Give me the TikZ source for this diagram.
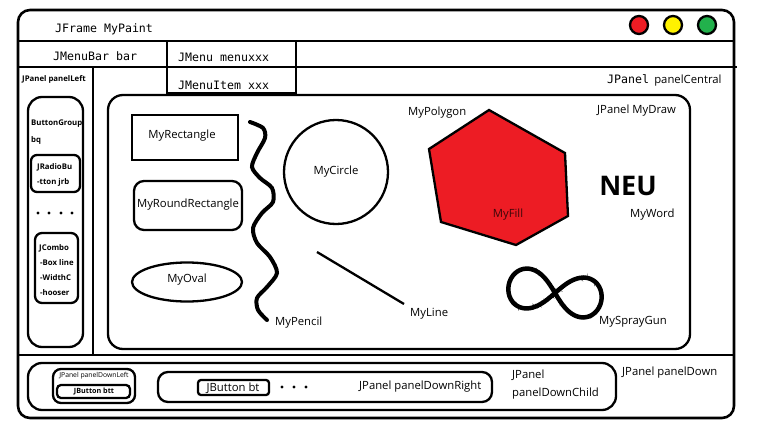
\documentclass[tikz,border=0pt]{standalone}
\usepackage{fontspec}
\setmainfont{Open Sans}
\setmonofont{DejaVu Sans Mono}
\definecolor{paintred}{RGB}{237,28,36}
\definecolor{paintyellow}{RGB}{255,242,0}
\definecolor{paintgreen}{RGB}{34,177,76}
\tikzset{
  frame/.style={line width=2.6pt},
  part/.style={line width=2.3pt},
  lbl/.style={font=\fontsize{11.3}{13}\selectfont,inner sep=0pt},
  mono/.style={font=\fontsize{11.6}{13}\ttfamily,inner sep=0pt},
  small/.style={font=\fontsize{7.8}{9}\selectfont\bfseries,inner sep=0pt},
}
\begin{document}
\begin{tikzpicture}[x=1pt,y=-1pt]
\useasboundingbox (0,0) rectangle (758,431);

% Window frame
\draw[frame,rounded corners=12pt] (18,10) rectangle (734,418);
\draw[frame] (18,41) -- (734,41); % title bar
\draw[frame] (18,67) -- (737,67); % menu bar
\draw[frame] (167,41) rectangle (296,93);
\draw[frame] (93,67) -- (93,355); % left panel
\draw[frame] (18,355) -- (734,355); % down panel
\foreach \c/\x in {paintred/639,paintyellow/673,paintgreen/707}
    \draw[part,fill=\c] (\x,25) circle (9);

\node (frm) at (55,29) [mono,anchor=west] {JFrame MyPaint};
\node (bar) at (53,56) [mono,anchor=west] {JMenuBar bar};
\node (menu) at (178,57) [mono,anchor=west] {JMenu menuxxx};
\node (item) at (178,85) [mono,anchor=west] {JMenuItem xxx};
\node (central) at (607,80) [anchor=west,inner sep=0pt]
    {{\fontsize{11.6}{13}\ttfamily JPanel}\ \ {\fontsize{11.3}{13}\selectfont panelCentral}};

% Left panel
\node (left) at (22,79) [small,anchor=west] {JPanel panelLeft};
\draw[part,rounded corners=14pt] (28,97) rectangle (83,347);
\node (bg) at (31,124) [small,anchor=west] {ButtonGroup};
\node (bq) at (31,140) [small,anchor=west] {bq};
\draw[part,rounded corners=6pt] (31,155) rectangle (80,192);
\node (jrb) at (37,167) [small,anchor=west] {JRadioBu};
\node (jrbb) at (37,182) [small,anchor=west] {-tton jrb};
\foreach \x in {38,49,61,72}
    \fill (\x,213) circle (1.6);
\draw[part,rounded corners=7pt] (35,233) rectangle (78,303);
\node (cb) at (39,248) [small,anchor=west] {JCombo};
\node (cbb) at (40,263) [small,anchor=west] {-Box line};
\node (cbc) at (40,278) [small,anchor=west] {-WidthC};
\node (cbd) at (40,293) [small,anchor=west] {-hooser};

% Draw panel
\draw[part,rounded corners=15pt] (108,95) rectangle (690,349);
\node (draw) at (597,111) [lbl,anchor=west] {JPanel MyDraw};

\draw[part] (132,115) rectangle (238,160);
\node (rect) at (182,136) [lbl] {MyRectangle};
\draw[part,rounded corners=10pt] (134,181) rectangle (242,230);
\node (rrect) at (188,205) [lbl] {MyRoundRectangle};
\draw[part] (187,282) ellipse (55 and 19.5);
\node (oval) at (187,280) [lbl] {MyOval};

\draw[line width=4pt,line cap=round] plot[smooth] coordinates {
    (250,122) (263,128) (265,138) (257,153) (252,167) (260,178) (272,188)
    (273,202) (262,213) (253,228) (257,243) (270,257) (277,273) (267,287)
    (257,298) (258,310) (267,320)};
\node (pencil) at (275,323) [lbl,anchor=west] {MyPencil};

\draw[part] (336,172) circle (52);
\node (circ) at (336,172) [lbl] {MyCircle};
\draw[part] (317,252) -- (404,304);
\node (line) at (410,314) [lbl,anchor=west] {MyLine};

\draw[part,fill=paintred] (489,110) -- (565,153) -- (568,216) -- (516,245)
    -- (441,222) -- (429,149) -- cycle;
\node (poly) at (408,113) [lbl,anchor=west] {MyPolygon};
\node (fill) at (508,215) [lbl,text=black!75!paintred] {MyFill};

\node (neu) at (628,186) [font=\fontsize{27}{30}\selectfont\bfseries,inner sep=0pt] {NEU};
\node (word) at (630,215) [lbl,anchor=west] {MyWord};

\begin{scope}[shift={(555,293)},rotate=-9]
    \draw[line width=4.5pt,line join=round]
        plot[domain=0:360,samples=97]
        ({47*cos(\x)/(1+sin(\x)*sin(\x))},{1.2*47*sin(\x)*cos(\x)/(1+sin(\x)*sin(\x))});
    \foreach \d in {1,2}
        \draw[line width=0.8pt]
            plot[domain=0:360,samples=240]
            ({47*cos(\x)/(1+sin(\x)*sin(\x))+1.5*rand},{1.2*47*sin(\x)*cos(\x)/(1+sin(\x)*sin(\x))+1.5*rand});
\end{scope}
\node (spray) at (599,322) [lbl,anchor=west] {MySprayGun};

% Down panel
\node (down) at (622,373) [lbl,anchor=west] {JPanel panelDown};
\draw[part,rounded corners=14pt] (28,363) rectangle (616,410);
\node (child) at (512,375) [lbl,anchor=west] {JPanel};
\node (childb) at (512,394) [lbl,anchor=west] {panelDownChild};

\draw[part,rounded corners=8pt] (53,369) rectangle (135,403);
\node (dleft) at (94,376) [font=\fontsize{6.8}{8}\selectfont,inner sep=0pt] {JPanel panelDownLeft};
\draw[part,rounded corners=4pt] (57,385) rectangle (130,398);
\node (btt) at (94,392) [font=\fontsize{7.2}{8}\selectfont\bfseries,inner sep=0pt] {JButton btt};

\draw[part,rounded corners=10pt] (158,372) rectangle (492,402);
\draw[part,rounded corners=3pt] (198,380) rectangle (269,395);
\node (bt) at (233,388) [lbl] {JButton bt};
\foreach \x in {282,294,306}
    \fill (\x,387) circle (1.6);
\node (dright) at (359,387) [lbl,anchor=west] {JPanel panelDownRight};
\end{tikzpicture}
\end{document}
